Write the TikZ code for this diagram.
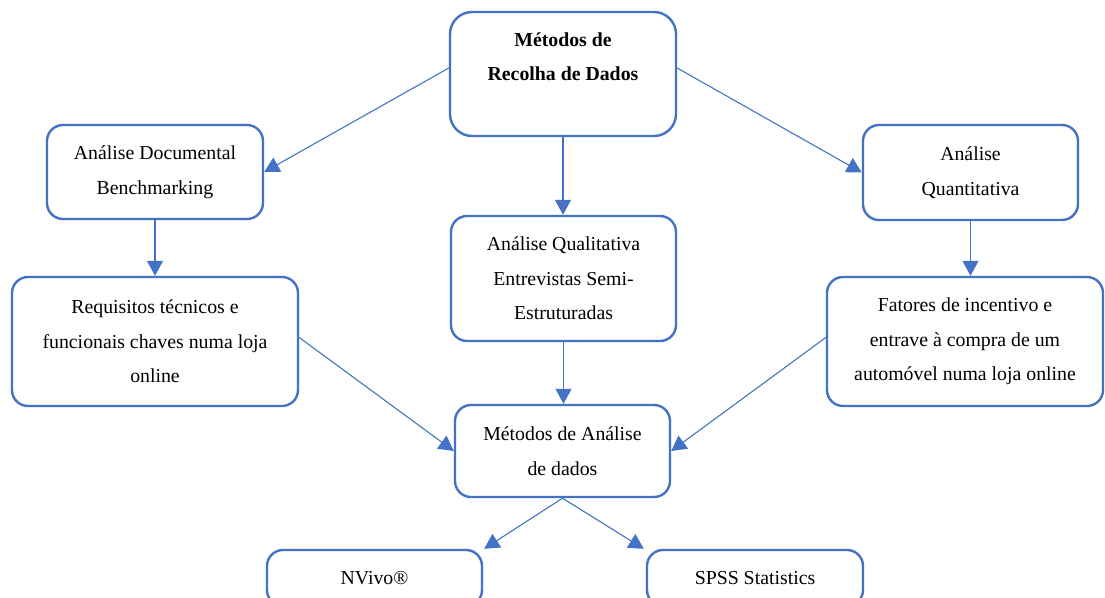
\documentclass[tikz,border=0pt]{standalone}
\usepackage{fontspec}
\setmainfont{Liberation Serif}
\usetikzlibrary{arrows.meta}
\definecolor{boxblue}{HTML}{4472C4}
\tikzset{
  box/.style={draw=boxblue, line width=2.4pt, rounded corners=16pt, fill=white,
    align=center, inner sep=0pt, text=black,
    font=\fontsize{19.8}{34.5}\selectfont},
  conn/.style={draw=boxblue, line width=1.1pt, -{Triangle[length=15pt,width=16pt]}}
}
\begin{document}
\begin{tikzpicture}[x=1pt,y=-1pt]
\clip (0,0) rectangle (1105,597);
\fill[white] (0,0) rectangle (1105,597);
\node[box, rounded corners=22pt, minimum width=226pt, minimum height=124pt, font=\fontsize{19.8}{34.5}\selectfont\bfseries] (top) at (563,74) {Métodos de\\Recolha de Dados\\\mbox{}};
\node[box, minimum width=216pt, minimum height=94pt] (doc) at (155,172) {Análise Documental\\Benchmarking};
\node[box, minimum width=215pt, minimum height=95pt] (quant) at (970.5,172.5) {Análise\\Quantitativa};
\node[box, minimum width=225pt, minimum height=125pt] (qual) at (563.5,278.5) {Análise Qualitativa\\Entrevistas Semi-\\Estruturadas};
\node[box, minimum width=286pt, minimum height=129pt] (req) at (155,341.5) {Requisitos técnicos e\\funcionais chaves numa loja\\online};
\node[box, minimum width=276pt, minimum height=129pt] (fat) at (965,341.5) {Fatores de incentivo e\\entrave à compra de um\\automóvel numa loja online};
\node[box, minimum width=215pt, minimum height=92pt] (ma) at (562.5,451) {Métodos de Análise\\de dados};
\node[box, minimum width=215pt, minimum height=56pt] (nv) at (374.5,578) {NVivo®};
\node[box, minimum width=216pt, minimum height=56pt] (sp) at (755,578) {SPSS Statistics};
\draw[conn] ([yshift=6pt]top.west) -- (doc.east);
\draw[conn] ([yshift=6pt]top.east) -- (quant.west);
\draw[conn] (top.south) -- (top.south |- qual.north);
\draw[conn] (doc.south) -- (req.north);
\draw[conn] (quant.south) -- (quant.south |- fat.north);
\draw[conn] ([yshift=4pt]req.east) -- (ma.west);
\draw[conn] (qual.south) -- (qual.south |- ma.north);
\draw[conn] ([yshift=4pt]fat.west) -- (ma.east);
\draw[conn] (ma.south) -- ([xshift=1pt]nv.north east);
\draw[conn] (ma.south) -- ([xshift=-2pt]sp.north west);
\end{tikzpicture}
\end{document}
